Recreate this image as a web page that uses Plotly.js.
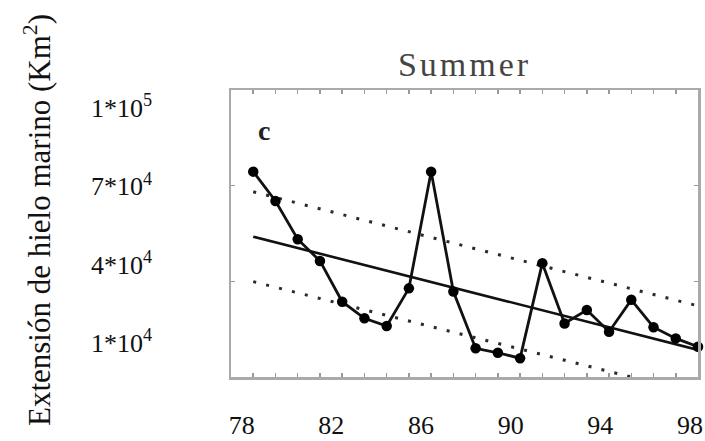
<!DOCTYPE html>
<html>
<head>
<meta charset="utf-8">
<script src="https://cdn.plot.ly/plotly-3.0.1.min.js"></script>
<style>
html,body{margin:0;padding:0;background:#fff;}
#chart .gtitle{letter-spacing:3px;}
</style>
</head>
<body>
<div id="chart" style="width:705px;height:441px;"></div>
<script>
// ---- data ----
const years = [78,79,80,81,82,83,84,85,86,87,88,89,90,91,92,93,94,95,96,97,98];
const iceExtent = [74400,65200,53200,46400,33600,28400,26000,37800,74400,36800,19000,17600,15900,45700,26800,31000,24200,34200,25600,22100,19500];
const trendYears = [78,98];
const trendValues = [54000,18500];
const upperBandValues = [68100,32300];
const lowerBandValues = [39900,4700];
const xTickVals = [78,82,86,90,94,98];
const xTickText = ['78','82','86','90','94','98'];
const yTickVals = [10000,40000,70000,100000];
const yTickText = ['1*10<sup>4</sup>','4*10<sup>4</sup>','7*10<sup>4</sup>','1*10<sup>5</sup>'];
const yearTicks = years;
const yTitle = 'Extensión de hielo marino (Km<sup>2</sup>)';
const chartTitle = 'Summer';
const panelLabel = 'c';

const serif = 'Liberation Serif';

const traces = [
  {x: trendYears, y: upperBandValues, mode:'lines', line:{color:'#2a2a2a', width:3, dash:'3px,10.3px'}, hoverinfo:'skip', showlegend:false},
  {x: trendYears, y: lowerBandValues, mode:'lines', line:{color:'#2a2a2a', width:3, dash:'3px,10.3px'}, hoverinfo:'skip', showlegend:false},
  {x: trendYears, y: trendValues, mode:'lines', line:{color:'#111', width:2.6}, hoverinfo:'skip', showlegend:false},
  {x: years, y: iceExtent, mode:'lines+markers', line:{color:'#111', width:2.8}, marker:{color:'#000', size:10.5}, cliponaxis:false, showlegend:false},
  {x:[null], y:[null], xaxis:'x2', yaxis:'y2', mode:'markers', hoverinfo:'skip', showlegend:false}
];

const layout = {
  width:705, height:441,
  margin:{l:231, r:7, t:90, b:64},
  paper_bgcolor:'#fff', plot_bgcolor:'#fff',
  showlegend:false,
  font:{family:serif},
  title:{text:chartTitle, font:{family:serif, size:34, color:'#444'}, x:0.5, xref:'paper', y:1-64/441, yref:'container', yanchor:'middle'},
  xaxis:{range:[77,98], tickvals:yearTicks, ticks:'inside', ticklen:4, tickwidth:1.5, tickcolor:'#999',
         showticklabels:false, showline:true, linecolor:'#aaa', linewidth:2.5, mirror:'ticks', showgrid:false, zeroline:false},
  yaxis:{range:[10000,100000], tickvals:yTickVals, ticks:'inside', ticklen:4, tickwidth:1.5, tickcolor:'#999',
         showticklabels:false, showline:true, linecolor:'#aaa', linewidth:2.5, mirror:'ticks', showgrid:false, zeroline:false},
  xaxis2:{overlaying:'x', anchor:'y2', side:'bottom', range:[77.523,98.357], tickvals:xTickVals, ticktext:xTickText, ticks:'',
          showline:false, showgrid:false, zeroline:false, ticklabelstandoff:30,
          tickfont:{family:serif, size:26, color:'#111'}},
  yaxis2:{overlaying:'y', anchor:'x2', side:'left', range:[-3026,106894], tickvals:yTickVals, ticktext:yTickText, ticks:'',
          showline:false, showgrid:false, zeroline:false, ticklabelstandoff:78,
          tickfont:{family:serif, size:26, color:'#111'}},
  annotations:[
    {text:panelLabel, x:78.48, y:87150, xref:'x', yref:'y', showarrow:false, font:{family:serif, size:28, color:'#222', weight:'bold'}},
    {text:yTitle, textangle:-90, x:(37-231)/467, y:(377-220)/287, xref:'paper', yref:'paper', xanchor:'center', yanchor:'middle',
     showarrow:false, font:{family:serif, size:31, color:'#111'}}
  ]
};

Plotly.newPlot('chart', traces, layout, {staticPlot:true, displayModeBar:false});
</script>
</body>
</html>
